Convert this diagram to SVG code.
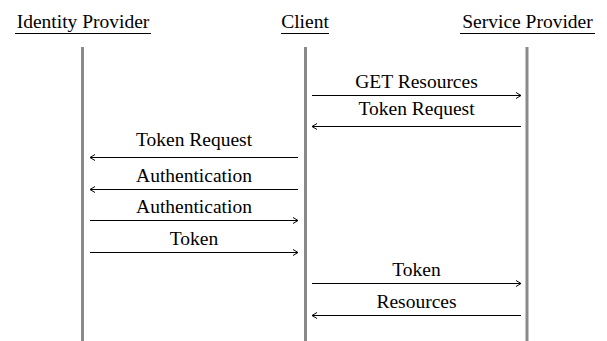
<svg xmlns="http://www.w3.org/2000/svg" width="607" height="341" viewBox="0 0 607 341">
<style>
.t{font-family:'Liberation Serif',serif;font-size:19.5px;fill:#000;text-anchor:middle}
.life{stroke:#8a8a8a;stroke-width:3}
.ul{stroke:#000;stroke-width:1}
.msg{stroke:#000;stroke-width:1;fill:none;marker-end:url(#ah)}
</style>
<defs>
<marker id="ah" markerWidth="8" markerHeight="8" refX="6" refY="4" orient="auto" markerUnits="userSpaceOnUse">
<path d="M1,1 L6,4 L1,7" fill="none" stroke="#000" stroke-width="1"/>
</marker>
</defs>
<rect width="607" height="341" fill="#fff"/>
<g id="idp">
<text class="t" x="83" y="28">Identity Provider</text>
<line class="ul" x1="15" y1="33.5" x2="151" y2="33.5"/>
<line class="life" x1="82.5" y1="47" x2="82.5" y2="341"/>
</g>
<g id="client">
<text class="t" x="305" y="28">Client</text>
<line class="ul" x1="281" y1="33.5" x2="329" y2="33.5"/>
<line class="life" x1="305.5" y1="47" x2="305.5" y2="341"/>
</g>
<g id="sp">
<text class="t" x="527.5" y="28">Service Provider</text>
<line class="ul" x1="460" y1="33.5" x2="595" y2="33.5"/>
<line class="life" x1="527" y1="47" x2="527" y2="341"/>
</g>
<g id="connectors">
<line class="msg" x1="312" y1="95.5" x2="521" y2="95.5"/>
<line class="msg" x1="521" y1="126.5" x2="312" y2="126.5"/>
<line class="msg" x1="298" y1="157.5" x2="90" y2="157.5"/>
<line class="msg" x1="298" y1="189.5" x2="90" y2="189.5"/>
<line class="msg" x1="90" y1="220.5" x2="298" y2="220.5"/>
<line class="msg" x1="90" y1="252.5" x2="298" y2="252.5"/>
<line class="msg" x1="312" y1="283.5" x2="521" y2="283.5"/>
<line class="msg" x1="521" y1="315.5" x2="312" y2="315.5"/>
</g>
<g id="labels">
<text class="t" x="416.5" y="87.5">GET Resources</text>
<text class="t" x="416.5" y="115">Token Request</text>
<text class="t" x="194" y="146">Token Request</text>
<text class="t" x="194" y="182">Authentication</text>
<text class="t" x="194" y="213">Authentication</text>
<text class="t" x="194" y="245">Token</text>
<text class="t" x="416.5" y="276">Token</text>
<text class="t" x="416.5" y="307.5">Resources</text>
</g>
</svg>
